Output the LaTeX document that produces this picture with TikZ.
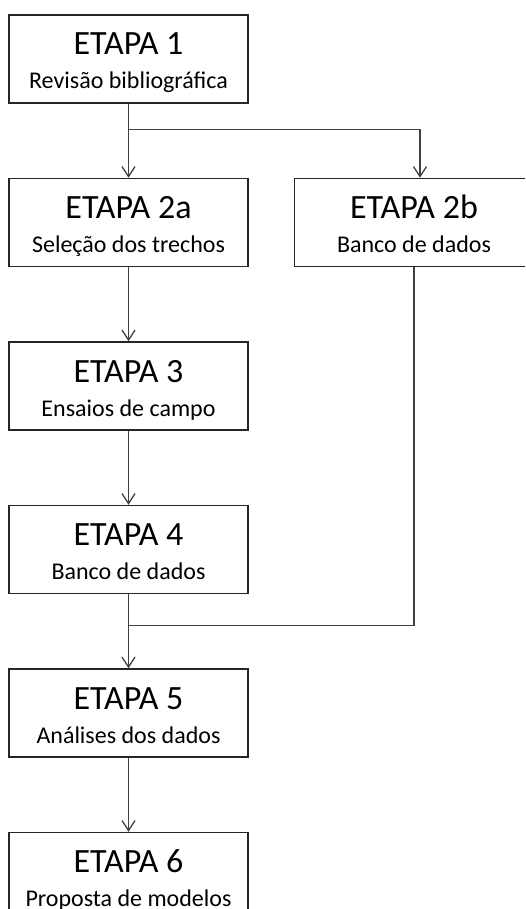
\documentclass[tikz,border=0pt]{standalone}
\usepackage{fontspec}
\setmainfont{Carlito}
\usetikzlibrary{arrows.meta, positioning, calc}

\newcommand{\etapafont}{\fontsize{34}{34}\selectfont}

\tikzset{
  etapa/.style={draw=black!85, line width=1.5pt, minimum width=239pt, minimum height=88pt,
    inner sep=0pt, align=center, font=\fontsize{24}{34}\selectfont,
    text height=74pt, text depth=14pt},
  linha/.style={draw=black!75, line width=1.3pt},
  flecha/.style={linha, -{Straight Barb[length=10pt, width=13pt]}}
}

\begin{document}
\begin{tikzpicture}[node distance=74pt]
  % page frame
  \useasboundingbox (0,0) rectangle (525pt,-909pt);
  \clip (0,0) rectangle (525pt,-909pt);

  % Left column
  \node[etapa] (e1) at (128.5pt,-59pt) {{\etapafont ETAPA 1}\\Revisão bibliográfica};
  \node[etapa, below=of e1] (e2a) {{\etapafont ETAPA 2a}\\Seleção dos trechos};
  \node[etapa, below=of e2a] (e3) {{\etapafont ETAPA 3}\\Ensaios de campo};
  \node[etapa, below=of e3] (e4) {{\etapafont ETAPA 4}\\Banco de dados};
  \node[etapa, below=of e4] (e5) {{\etapafont ETAPA 5}\\Análises dos dados};
  \node[etapa, below=of e5] (e6) {{\etapafont ETAPA 6}\\Proposta de modelos};

  % Right column
  \node[etapa, right=45pt of e2a] (e2b) {{\etapafont ETAPA 2b}\\Banco de dados};

  % Branch and join points
  \coordinate (split) at ($(e1.south)+(0,-26pt)$);
  \coordinate (join) at ($(e4.south)+(0,-31pt)$);

  % Connectors
  \draw[linha] (e1) -- (split);
  \draw[flecha] (split) -- (e2a);
  \draw[flecha] (split) -| ([xshift=6pt]e2b.north);
  \draw[flecha] (e2a) -- (e3);
  \draw[flecha] (e3) -- (e4);
  \draw[linha] (e2b) |- (join);
  \draw[flecha] (e4) -- (e5);
  \draw[flecha] (e5) -- (e6);
\end{tikzpicture}
\end{document}
